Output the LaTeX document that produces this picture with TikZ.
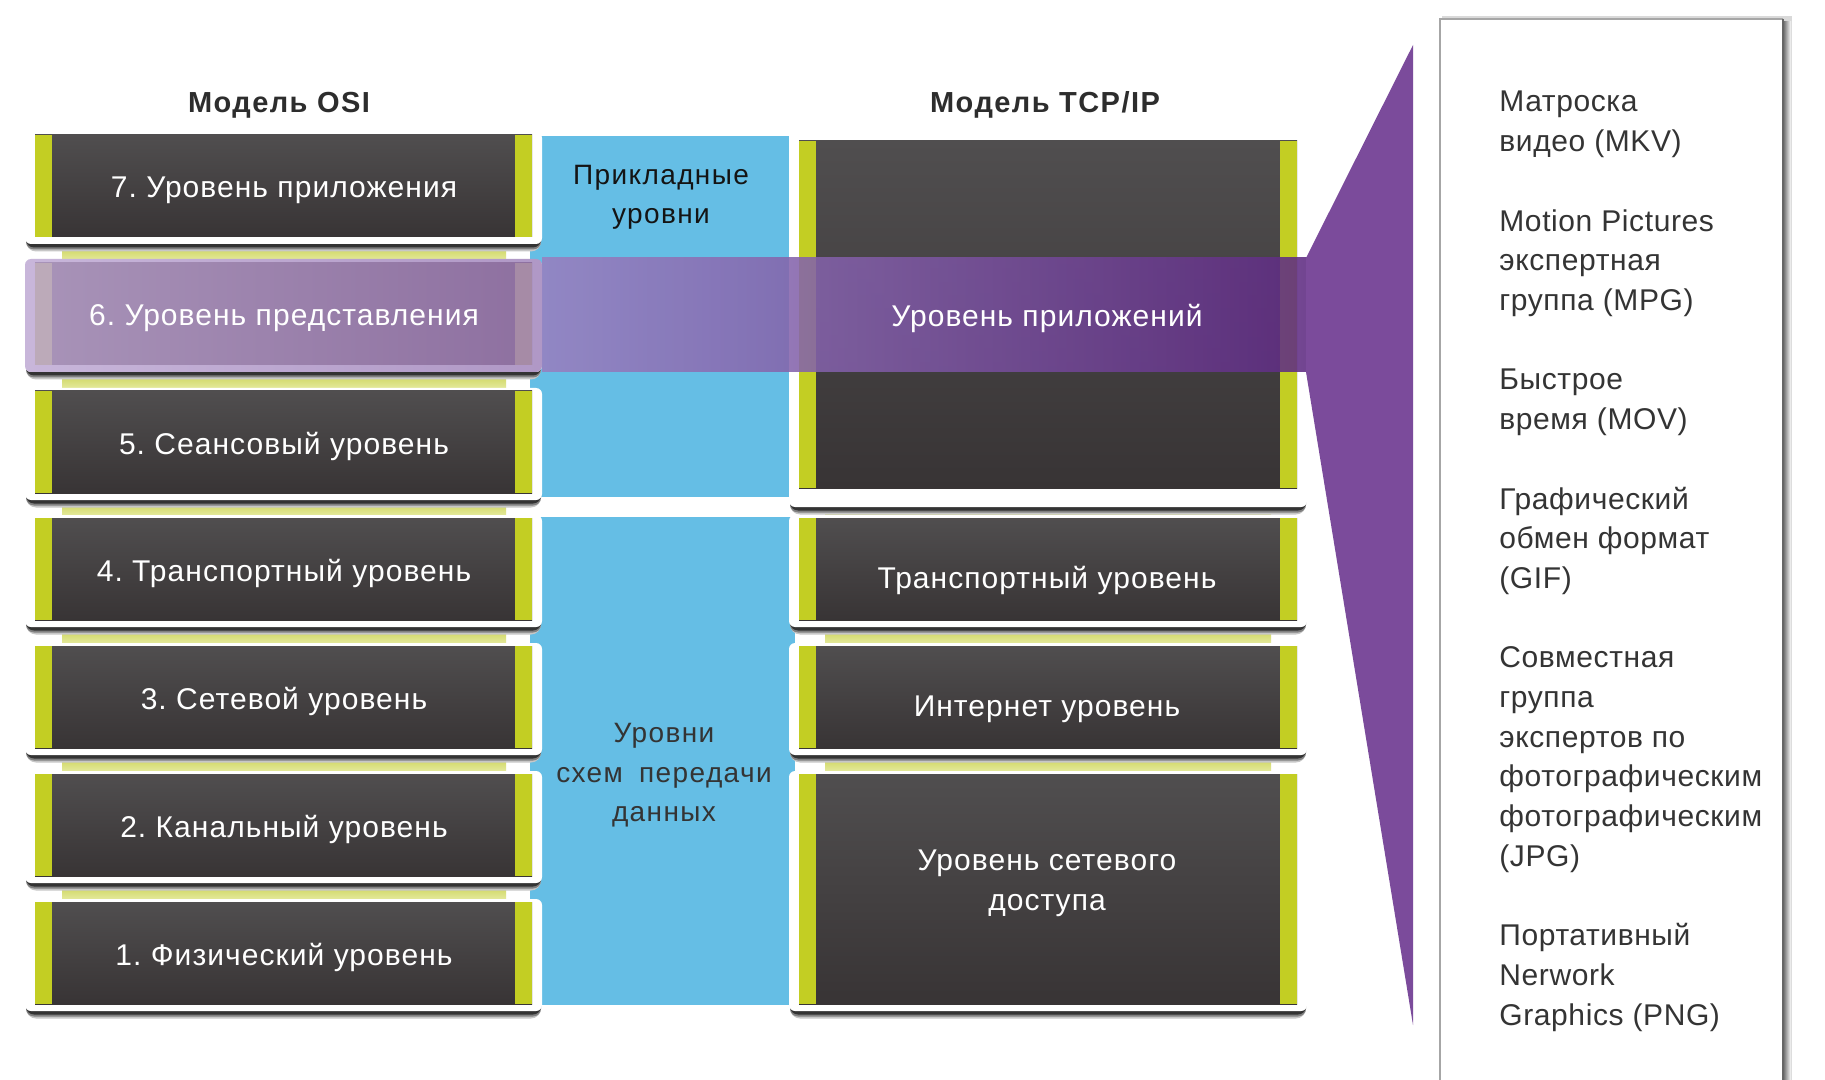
\documentclass[tikz,border=0pt]{standalone}
\usepackage{fontspec}
\setmainfont{Liberation Sans}
\newfontfamily\boxfont[LetterSpace=3.5]{Liberation Sans}
\newfontfamily\hdrfont[LetterSpace=5]{Liberation Sans}
\newfontfamily\bluefont[LetterSpace=5]{Liberation Sans}
\newfontfamily\listfont[LetterSpace=2]{Liberation Sans}
\frenchspacing
\definecolor{lime}{RGB}{195,206,35}
\definecolor{boxtop}{RGB}{80,78,79}
\definecolor{boxbot}{RGB}{56,52,53}
\definecolor{skyb}{RGB}{101,190,229}
\definecolor{bandtop}{RGB}{200,208,80}
\definecolor{bandbot}{RGB}{228,233,155}
\definecolor{purp}{RGB}{123,75,155}
\definecolor{txtd}{RGB}{52,52,52}
\definecolor{hdrc}{RGB}{45,45,45}
\definecolor{lavA}{RGB}{200,182,218}
\definecolor{lavB}{RGB}{176,152,198}
\definecolor{lavC}{RGB}{168,147,184}
\definecolor{lavD}{RGB}{142,112,160}
\definecolor{barL}{RGB}{188,170,185}
\definecolor{barR}{RGB}{166,139,166}
\definecolor{bandL}{RGB}{152,128,192}
\definecolor{bandR}{RGB}{95,44,130}
\newcommand{\layerbox}[6]{%
  \fill[black!22, rounded corners=5] (#1+1,#3+5) rectangle (#2-1,#6+7.5);
  \fill[black!50, rounded corners=4] (#1+1,#3+4) rectangle (#2-1,#6+5.5);
  \fill[black!80, rounded corners=4] (#1+1,#3+3) rectangle (#2-1,#6+3.5);
  \fill[white, rounded corners=3] (#1,#3) rectangle (#2,#6);
  \shade[top color=boxtop, bottom color=boxbot] (#1+10,#4) rectangle (#2-10,#5);
  \fill[lime] (#1+10,#4) rectangle (#1+27,#5);
  \fill[lime] (#2-27,#4) rectangle (#2-10,#5);
}
\tikzset{
  boxtxt/.style={text=white, font=\boxfont\fontsize{15}{18}\selectfont, anchor=base, inner sep=0pt},
  hdr/.style={text=hdrc, font=\hdrfont\bfseries\fontsize{14.5}{17}\selectfont, anchor=base, inner sep=0pt},
  bluetxt/.style={font=\bluefont\fontsize{14}{17}\selectfont, anchor=base, inner sep=0pt},
  listtxt/.style={text=txtd, font=\listfont\fontsize{15}{18}\selectfont, anchor=base west, inner sep=0pt},
  cband/.style={top color=bandtop, bottom color=bandbot}
}
\begin{document}
\begin{tikzpicture}[x=0.5pt,y=-0.5pt]
\clip (0,0) rectangle (1825,1080);
\fill[white] (0,0) rectangle (1825,1080);
% blue area
\fill[skyb] (530,136) rectangle (795,497);
\fill[skyb] (530,517) rectangle (795,1005);
% connector bands OSI
\foreach \ya/\yb in {244/260,372/388,500/515,627/643,755/771,883/899}
  {\shade[cband] (62,\ya) rectangle (506,\yb);}
% connector bands TCP/IP
\foreach \ya/\yb in {507/515,627/643,755/771}
  {\shade[cband] (825,\ya) rectangle (1271,\yb);}
% OSI boxes
\foreach \yy in {135,263,391,518,646,774,902}
  {\layerbox{25}{542}{\yy-3}{\yy}{\yy+102}{\yy+109}}
% OSI box 6 highlighted
\shade[left color=lavA, right color=lavB, rounded corners=3] (25,259) rectangle (542,372);
\shade[left color=lavC, right color=lavD] (35,263) rectangle (532,365);
\fill[barL] (35,263) rectangle (52,365);
\fill[barR] (515,263) rectangle (532,365);
% TCP/IP boxes
\layerbox{789}{1307}{125}{141}{488}{507}
\layerbox{789}{1307}{515}{518}{620}{627}
\layerbox{789}{1307}{643}{646}{748}{755}
\layerbox{789}{1307}{771}{774}{1004}{1011}
% purple highlight band
\shade[left color=bandL, right color=bandR, fill opacity=0.88] (542,258) rectangle (1307,372);
% callout wedge
\fill[purp] (1306,258) -- (1413,45) -- (1413,1025) -- (1306,372) -- cycle;
% right panel
\fill[black!15] (1442,16) rectangle (1792,1090);
\shade[left color=black!60, right color=white] (1783,22) rectangle (1791,1090);
\fill[white] (1440,19) rectangle (1783,1090);
\draw[black!35, line width=0.6pt] (1440,1090) -- (1440,19) -- (1783,19);
\draw[black!60, line width=1pt] (1783,19) -- (1783,1090);
% headers
\node[hdr] (hosi) at (279,113) {Модель OSI};
\node[hdr] (htcp) at (1045,113) {Модель TCP/IP};
% OSI labels
\node[boxtxt] (o7) at (284,198) {7. Уровень приложения};
\node[boxtxt] (o6) at (284,326) {6. Уровень представления};
\node[boxtxt] (o5) at (284,454) {5. Сеансовый уровень};
\node[boxtxt] (o4) at (284,581) {4. Транспортный уровень};
\node[boxtxt] (o3) at (284,709) {3. Сетевой уровень};
\node[boxtxt] (o2) at (284,837) {2. Канальный уровень};
\node[boxtxt] (o1) at (284,965) {1. Физический уровень};
% TCP/IP labels
\node[boxtxt] (t4) at (1047,327) {Уровень приложений};
\node[boxtxt] (t3) at (1047,588) {Транспортный уровень};
\node[boxtxt] (t2) at (1047,716) {Интернет уровень};
\node[boxtxt] (t1a) at (1047,870) {Уровень сетевого};
\node[boxtxt] (t1b) at (1047,910) {доступа};
% blue labels
\node[bluetxt, text=black!92] (ap1) at (661,185) {Прикладные};
\node[bluetxt, text=black!92] (ap2) at (661,224) {уровни};
\node[bluetxt, text=txtd] (dl1) at (664,742) {Уровни};
\node[bluetxt, text=txtd] (dl2) at (664,782) {схем\hspace{0.25em} передачи};
\node[bluetxt, text=txtd] (dl3) at (664,821) {данных};
% list of formats
\foreach \i/\txt [count=\n] in {0/Матроска,1/видео (MKV),3/Motion Pictures,4/экспертная,5/группа (MPG),7/Быстрое,8/время (MOV),10/Графический,11/обмен формат,12/(GIF),14/Совместная,15/группа,16/экспертов по,17/фотографическим,18/фотографическим,19/(JPG),21/Портативный,22/Nerwork,23/Graphics (PNG)}
  {\node[listtxt] (f\n) at (1499,112+\i*39.7) {\txt};}
\end{tikzpicture}
\end{document}
